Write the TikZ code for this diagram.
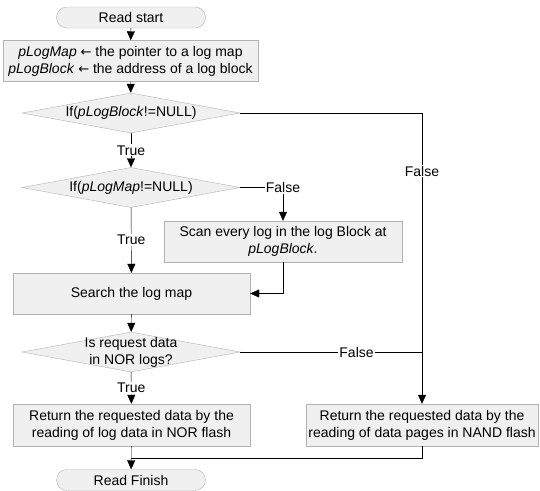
\documentclass[tikz,border=0pt]{standalone}
\usepackage{fontspec}
\setmainfont{Liberation Sans}
\newfontfamily\arrowfont{DejaVu Sans}
\usetikzlibrary{arrows.meta,shapes,calc,shapes.geometric,shapes.misc}

\newcommand{\getsarrow}{{\arrowfont\fontsize{13}{17}\selectfont ←}}

\begin{document}
\begin{tikzpicture}[x=1pt, y=-1pt,
    every node/.style={font=\fontsize{14}{17}\selectfont},
    box/.style={draw=gray!60, fill=gray!12, minimum height=41pt, inner sep=0pt, align=center},
    term/.style={rounded rectangle, draw=gray!60, fill=gray!12, minimum width=149pt, minimum height=21pt, inner sep=0pt},
    decision/.style={diamond, draw=gray!60, fill=gray!12, minimum width=218pt, minimum height=40pt, inner sep=0pt, aspect=5.45},
    lbl/.style={fill=white, inner sep=1pt},
    flow/.style={-{Triangle[length=9pt,width=8pt]}}]
    \useasboundingbox (0,0) rectangle (540,490);
    \node[term] (start) at (131,17.5) {Read start};
    \node[box, minimum width=255pt] (init) at (130.5,61) {\textit{pLogMap} \getsarrow\ the pointer to a log map\\\textit{pLogBlock} \getsarrow\ the address of a log block};
    \node[decision] (ifblock) at (131,113) {If(\textit{pLogBlock}!=NULL)};
    \node[decision] (ifmap) at (131,187.5) {If(\textit{pLogMap}!=NULL)};
    \node[box, minimum width=238pt] (scan) at (283,241.5) {Scan every log in the log Block at\\\textit{pLogBlock}.};
    \node[box, minimum width=237pt] (search) at (131.5,293.5) {Search the log map};
    \node[decision] (isnor) at (131,352) {};
    \node[align=center] (isnortext) at (isnor) {Is request data\\in NOR logs?};
    \node[box, minimum width=237pt, minimum height=42pt] (nor) at (131.5,425) {Return the requested data by the\\reading of log data in NOR flash};
    \node[box, minimum width=232pt, minimum height=42pt] (nand) at (422,425) {Return the requested data by the\\reading of data pages in NAND flash};
    \node[term] (finish) at (131,480) {Read Finish};
    % connectors
    \draw[flow] (start) -- (init);
    \draw[flow] (init) -- (ifblock);
    \draw[flow] (ifblock) -- node[lbl] (t1) {True} (ifmap);
    \draw[flow] (ifblock.east) -| node[lbl, pos=0.6] (f1) {False} (nand.north);
    \draw[flow] (ifmap.east) -| node[lbl, pos=0.5] (f2) {False} (scan.north);
    \draw[flow] (ifmap) -- node[lbl] (t2) {True} (search);
    \draw[flow] (scan.south) |- (search.east);
    \draw[flow] (search) -- (isnor);
    \coordinate (join) at (nand.north |- isnor.east);
    \draw (isnor.east) -- node[lbl, pos=0.64] (f3) {False} (join);
    \draw[flow] (isnor) -- node[lbl] (t3) {True} (nor);
    \draw[flow] (nor) -- (finish);
    \coordinate (merge) at ($(nor.south)!0.5!(finish.north)$);
    \draw (nand.south) |- (merge);
\end{tikzpicture}
\end{document}
